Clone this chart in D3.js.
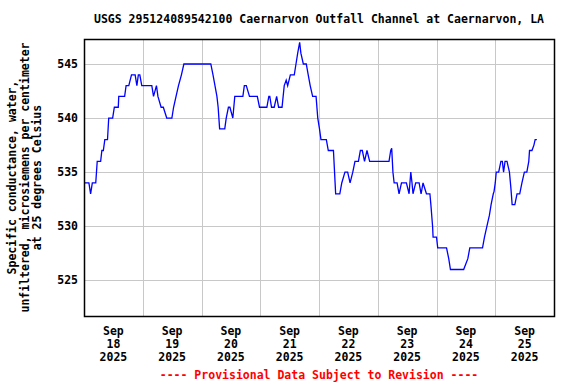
<!DOCTYPE html>
<html>
<head>
<meta charset="utf-8">
<script src="https://cdn.jsdelivr.net/npm/d3@7"></script>
<style>
  html, body { margin: 0; padding: 0; background: #fff; }
  svg text { font-family: "DejaVu Sans Mono", "Liberation Mono", monospace; font-weight: bold; font-size: 11.5px; }
</style>
</head>
<body>
<svg id="chart" width="576" height="384"></svg>
<script>
const titleText = "USGS 295124089542100 Caernarvon Outfall Channel at Caernarvon, LA";
const yTitleLines = ["Specific conductance, water,", "unfiltered, microsiemens per centimeter", "at 25 degrees Celsius"];
const footerText = "---- Provisional Data Subject to Revision ----";
const yTicks = [525, 530, 535, 540, 545];
const dayLabels = ["18", "19", "20", "21", "22", "23", "24", "25"];
const monthLabel = "Sep";
const yearLabel = "2025";

// hours since 2025-09-18 00:00
const hours = [0, 2.0, 2.7, 3.4, 4.8, 5.4, 6.8, 7.3, 7.9, 8.5, 9.6, 10.1, 11.7, 12.4, 14.0, 14.2, 16.6, 17.2, 18.3, 19.4,
  20.9, 21.6, 22.2, 22.8, 23.6, 27.7, 28.4, 29.6, 30.2, 31.5, 32.4, 33.8, 35.9, 36.6, 37.6, 38.6, 39.8, 40.8, 51.8, 52.7,
  53.5, 54.3, 54.8, 55.4, 57.5, 58.1, 59.0, 59.6, 60.8, 61.6, 64.9, 65.5, 66.3, 67.6, 70.8, 71.7, 74.7, 75.5, 75.9, 76.6,
  77.7, 78.7, 79.5, 80.9, 81.8, 82.6, 83.2, 84.3, 85.9, 86.6, 87.3, 88.1, 88.6, 89.6, 90.8, 91.6, 92.4, 93.4, 94.8, 95.5,
  96.2, 96.8, 99.0, 99.8, 101.9, 102.8, 104.5, 105.3, 106.6, 107.7, 108.7, 109.8, 110.7, 112.1, 112.9, 113.7, 114.6, 115.6,
  116.7, 124.6, 125.3, 125.7, 126.2, 126.7, 127.9, 128.7, 129.7, 131.7, 132.8, 133.5, 134.0, 134.4, 135.5, 136.9, 137.7,
  138.5, 139.9, 141.3, 141.7, 142.4, 142.6, 144.0, 144.5, 148.1, 149.0, 149.7, 155.1, 156.8, 157.6, 162.8, 163.6, 164.6,
  165.6, 166.3, 167.2, 167.5, 168.0, 168.4, 169.4, 170.3, 170.9, 171.4, 172.0, 172.8, 173.8, 174.4, 174.9, 176.0, 176.9,
  178.0, 178.9, 179.9, 180.9, 181.7, 182.0, 183.0, 183.8, 184.3, 185.0];
const values = [534, 534, 533, 534, 534, 536, 536, 537, 537, 538, 538, 540, 540, 541, 541, 542, 542, 543, 543, 544,
  544, 543, 544, 544, 543, 543, 542, 543, 542, 541, 541, 540, 540, 541, 542, 543, 544, 545, 545, 544,
  543, 542, 541, 539, 539, 540, 541, 541, 540, 542, 542, 543, 543, 542, 542, 541, 541, 542, 542, 541,
  541, 542, 541, 541, 543, 543.5, 543, 544, 544, 545, 546, 547, 546, 545, 545, 544, 543, 542, 542, 540,
  539, 538, 538, 537, 537, 533, 533, 534, 535, 535, 534, 535, 536, 536, 537, 537, 536, 537,
  536, 536, 537, 537.2, 535, 534, 534, 533, 534, 534, 533, 535, 534, 533, 534, 534, 533,
  534, 533, 533, 532, 530, 529, 529, 528, 528, 527, 526, 526, 527, 528, 528, 529, 530,
  531, 532, 533, 533.2, 534, 535, 535, 536, 536, 535, 536, 536, 535, 533.5, 532, 532, 533,
  533, 534, 535, 535, 536, 537, 537, 537.5, 538, 538];

const svg = d3.select("#chart");
const W = 576, H = 384;
const m = { left: 84, right: 22, top: 39, bottom: 68 };
const x0 = m.left, x1 = W - m.right, y0 = m.top, y1 = H - m.bottom;

const start = new Date(2025, 8, 18, 0, 0);
const end = new Date(2025, 8, 26, 0, 0);
const toDate = h => new Date(start.getTime() + h * 3600e3);

const x = d3.scaleTime().domain([start, end]).range([x0, x1]);
const y = d3.scaleLinear().domain([521.7, 547.31]).range([y1, y0]);

// grid
const grid = svg.append("g").attr("stroke", "#c8c8c8").attr("stroke-width", 1).attr("shape-rendering", "crispEdges");
const midnights = d3.timeDay.range(d3.timeDay.offset(start, 1), end);
grid.selectAll("line.v").data(midnights).join("line")
  .attr("x1", d => Math.round(x(d)) + 0.5).attr("x2", d => Math.round(x(d)) + 0.5)
  .attr("y1", y0).attr("y2", y1);
grid.selectAll("line.h").data(yTicks).join("line")
  .attr("x1", x0).attr("x2", x1)
  .attr("y1", d => Math.round(y(d)) + 0.5).attr("y2", d => Math.round(y(d)) + 0.5);

// data line
const data = hours.map((h, i) => ({ t: toDate(h), v: values[i] }));
svg.append("path").datum(data)
  .attr("fill", "none").attr("stroke", "#0000ff").attr("stroke-width", 1.3)
  .attr("d", d3.line().x(d => x(d.t)).y(d => y(d.v)));

// frame
svg.append("rect").attr("x", x0 + 0.5).attr("y", y0 + 0.5)
  .attr("width", x1 - x0).attr("height", y1 - y0)
  .attr("fill", "none").attr("stroke", "#000").attr("stroke-width", 1.5);

// y tick labels
svg.append("g").selectAll("text").data(yTicks).join("text")
  .attr("x", x0 - 6).attr("y", d => y(d) + 4)
  .attr("text-anchor", "end").text(d => d);

// x labels at noon
const noons = dayLabels.map((d, i) => ({ label: d, t: new Date(2025, 8, 18 + i, 12) }));
const xl = svg.append("g").selectAll("text").data(noons).join("text")
  .attr("text-anchor", "middle").attr("transform", d => `translate(${x(d.t)},0)`);
xl.append("tspan").attr("x", 0).attr("y", 335).text(monthLabel);
xl.append("tspan").attr("x", 0).attr("y", 348).text(d => d.label);
xl.append("tspan").attr("x", 0).attr("y", 361).text(yearLabel);

// title
svg.append("text").attr("x", (x0 + x1) / 2).attr("y", 23).attr("text-anchor", "middle").text(titleText);

// y title
const yt = svg.append("text").attr("transform", `translate(0,${(y0 + y1) / 2}) rotate(-90)`).attr("text-anchor", "middle");
yTitleLines.forEach((s, i) => yt.append("tspan").attr("x", 0).attr("y", 16 + i * 12.5).text(s));

// footer
svg.append("text").attr("x", (x0 + x1) / 2).attr("y", 379).attr("text-anchor", "middle")
  .attr("fill", "#ff0000").text(footerText);
</script>
</body>
</html>
